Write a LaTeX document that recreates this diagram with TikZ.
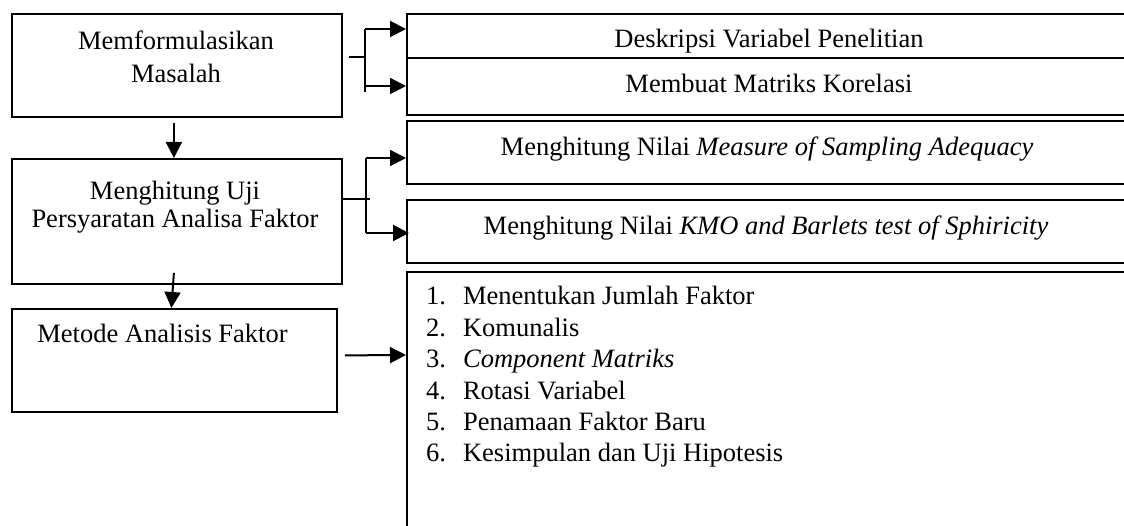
\documentclass[tikz,border=0pt]{standalone}
\usepackage{fontspec}
\setmainfont{Liberation Serif}
\usetikzlibrary{arrows.meta,calc}
\begin{document}
\begin{tikzpicture}[x=1pt,y=-1pt,
  box/.style={draw,line width=1.8pt,anchor=north west,inner sep=0pt},
  txt/.style={font=\fontsize{26.5}{31.4}\selectfont,inner sep=0pt},
  arr/.style={line width=2pt,-{Triangle[length=16pt,width=16pt]}},
  lnk/.style={line width=2pt},
  stub/.style={line width=1.2pt}]
\useasboundingbox (0,0) rectangle (1124,526);
\clip (0,0) rectangle (1124,526);
% left column
\node[box,minimum width=330pt,minimum height=103pt] (b1) at (11,13) {};
\node[box,minimum width=330pt,minimum height=125pt] (b2) at (11,158) {};
\node[box,minimum width=325pt,minimum height=103pt] (b3) at (11,308) {};
% right column
\node[box,minimum width=722pt,minimum height=44pt] (r1) at (406,13) {};
\node[box,minimum width=722pt,minimum height=57pt] (r2) at (406,57) {};
\node[box,minimum width=722pt,minimum height=63pt] (r3) at (406,120) {};
\node[box,minimum width=722pt,minimum height=63pt] (r4) at (406,199) {};
\node[box,minimum width=722pt,minimum height=280pt] (r5) at (406,271) {};
% texts
\node[txt,anchor=base,align=center,font=\fontsize{26.5}{33}\selectfont] (t1) at (176,83) {Memformulasikan\\Masalah};
\node[txt,anchor=base,align=center,font=\fontsize{26.5}{28}\selectfont] (t2) at (175,228) {Menghitung Uji\\Persyaratan Analisa Faktor};
\node[txt,anchor=base] (t3) at (162.5,343) {Metode Analisis Faktor};
\node[txt,anchor=base] (t4) at (769,48) {Deskripsi Variabel Penelitian};
\node[txt,anchor=base] (t5) at (769,93) {Membuat Matriks Korelasi};
\node[txt,anchor=base] (t6) at (767,156) {Menghitung Nilai \textit{Measure of Sampling Adequacy}};
\node[txt,anchor=base] (t7) at (766,235) {Menghitung Nilai \textit{KMO and Barlets test of Sphiricity}};
\node[txt,anchor=base west] (t8) at (426,305) {\begin{tabular}[t]{@{}l@{\hspace{17pt}}l@{}}
1. & Menentukan Jumlah Faktor\\
2. & Komunalis\\
3. & \textit{Component Matriks}\\
4. & Rotasi Variabel\\
5. & Penamaan Faktor Baru\\
6. & Kesimpulan dan Uji Hipotesis
\end{tabular}};
% vertical arrows
\draw[arr] ($(b1.south)+(-3,5)$) -- ($(b2.north)+(-3,0)$);
\draw[arr] ($(b2.south)+(-3,-12)$) -- ($(b3.north)+(-3,0)$);
% bracket 1
\coordinate (j1) at (365,57);
\coordinate (j1t) at (365,29);
\coordinate (j1b) at (365,92);
\coordinate (j1a) at (365,86);
\draw[stub] ($(b1.east |- j1)+(6,0)$) -- (j1);
\draw[lnk] (j1t) -- (j1b);
\draw[arr] (j1t) -- (r1.west |- j1t);
\draw[arr] (j1a) -- (r2.west |- j1a);
% bracket 2
\coordinate (j2) at (366,199);
\coordinate (j2e) at (370,199);
\coordinate (j2t) at (366,158);
\coordinate (j2b) at (366,233);
\draw[stub] (b2.east |- j2) -- (j2e);
\draw[lnk] (j2t) -- (j2b);
\draw[arr] (j2t) -- (r3.west |- j2t);
\draw[arr] (j2b) -- ($(r4.west |- j2b)+(3,0)$);
% arrow to list
\draw[arr] ($(b3.east)+(7,-5)$) -- (r5.west |- 0,355);
\end{tikzpicture}
\end{document}
